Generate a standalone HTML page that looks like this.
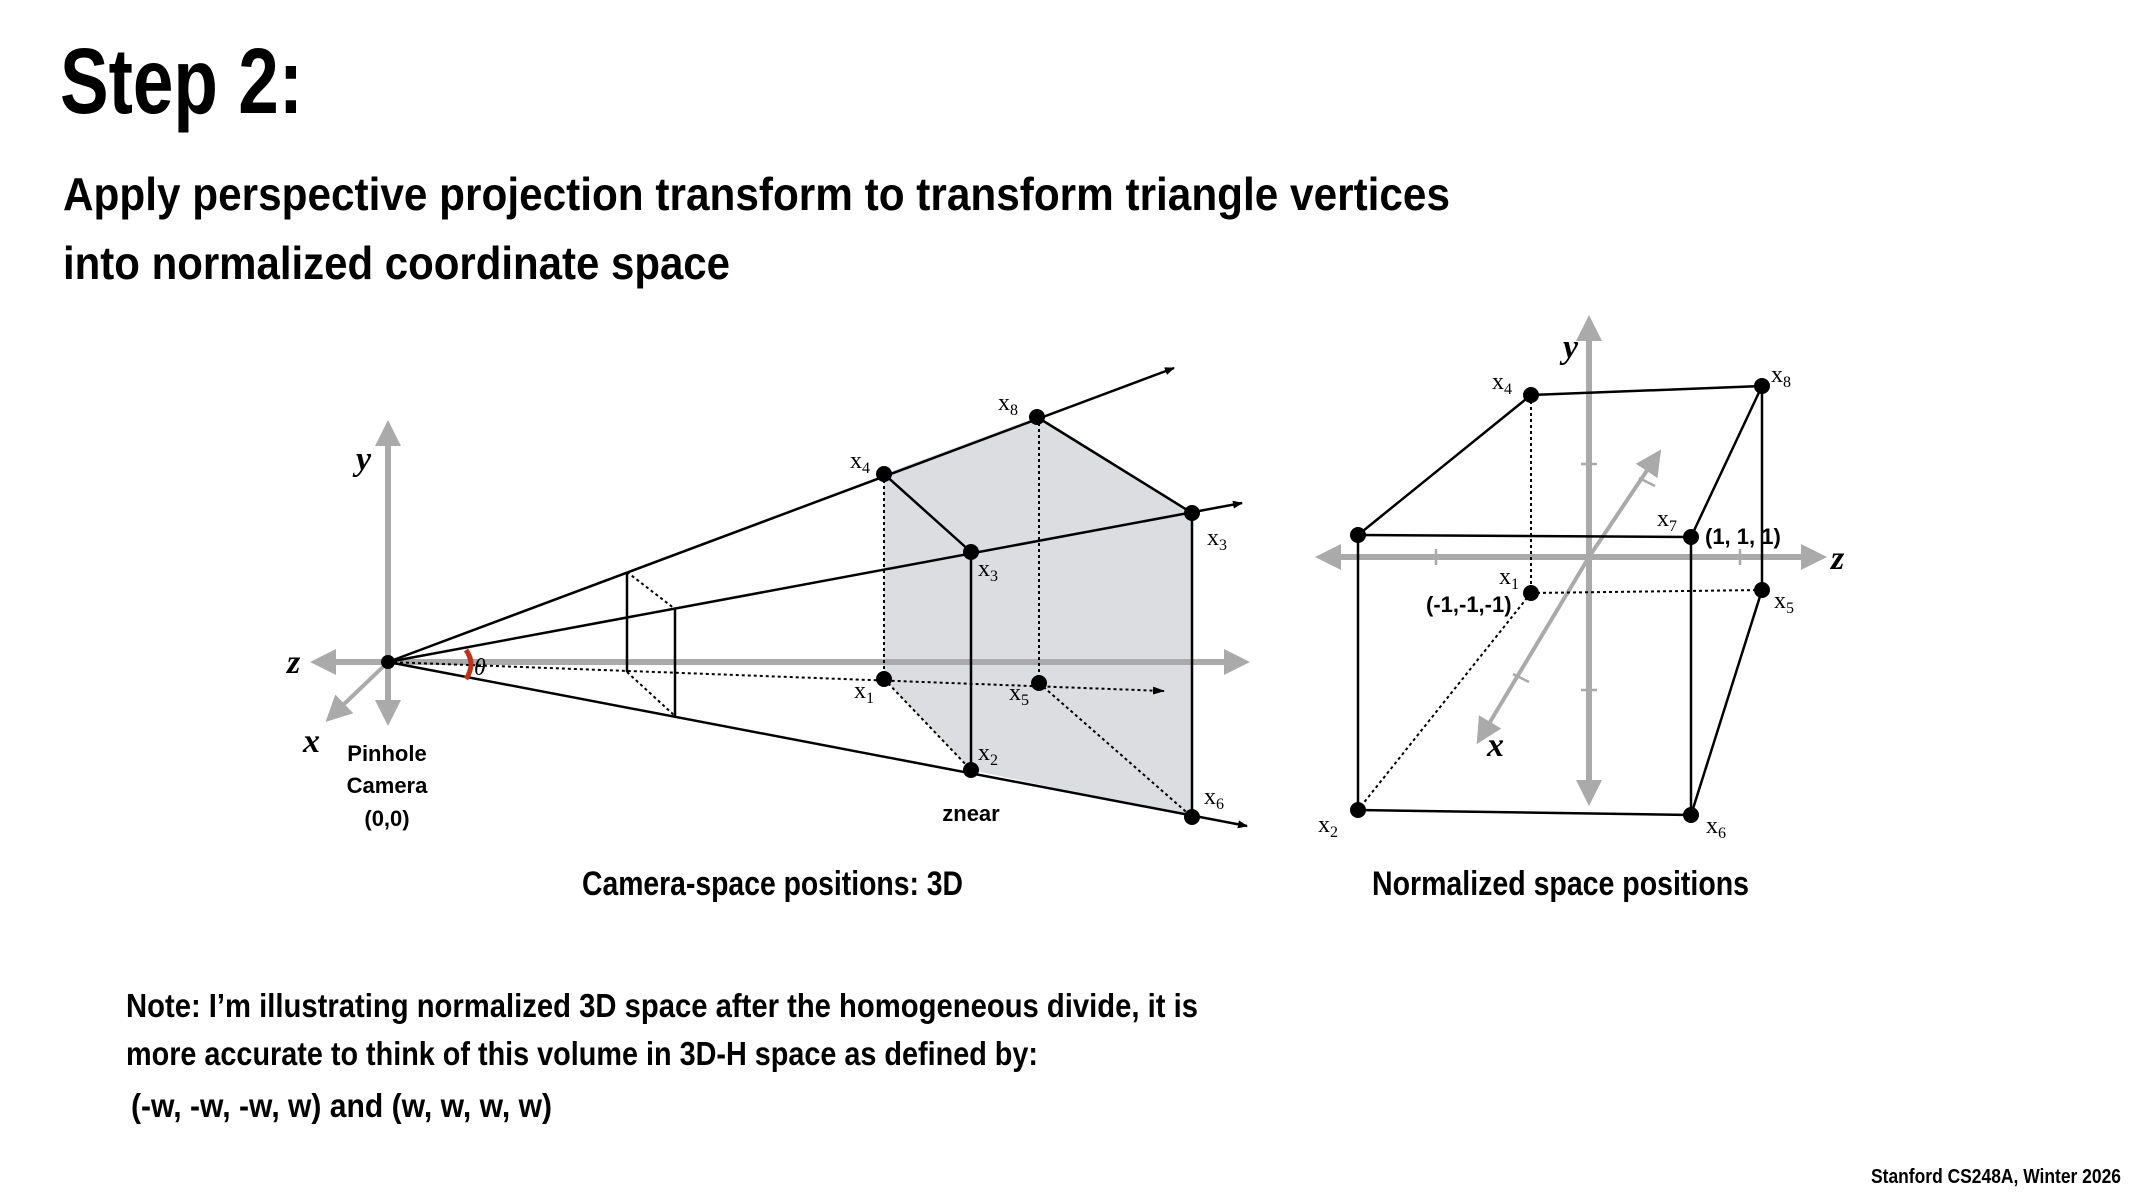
<!DOCTYPE html>
<html><head><meta charset="utf-8"><style>
html,body{margin:0;padding:0;background:#fff;}
svg{display:block}
.b{font-family:"Liberation Sans",sans-serif;font-weight:bold;fill:#000}
.s{font-family:"Liberation Serif",serif;fill:#000;font-size:24px}
.si{font-family:"Liberation Serif",serif;font-style:italic;font-weight:bold;fill:#000;font-size:34px}
</style></head><body>
<svg width="2133" height="1200" viewBox="0 0 2133 1200" xmlns="http://www.w3.org/2000/svg">
<defs>
<marker id="ah" markerWidth="10" markerHeight="8" refX="9" refY="4" orient="auto" markerUnits="userSpaceOnUse"><path d="M0,0 L10,4 L0,8 z" fill="#000"/></marker>
<marker id="ahs" markerWidth="12" markerHeight="8" refX="11" refY="4" orient="auto" markerUnits="userSpaceOnUse"><path d="M0,0 L12,4 L0,8 z" fill="#000"/></marker>
<marker id="ga" markerWidth="26" markerHeight="26" refX="6" refY="13" orient="auto" markerUnits="userSpaceOnUse"><path d="M0,0 L26,13 L0,26 z" fill="#aaa"/></marker>
</defs>

<text class="b" x="60" y="113" font-size="93" textLength="243" lengthAdjust="spacingAndGlyphs">Step 2:</text>
<text class="b" x="63" y="210" font-size="46" textLength="1387" lengthAdjust="spacingAndGlyphs">Apply perspective projection transform to transform triangle vertices</text>
<text class="b" x="63" y="279" font-size="46" textLength="667" lengthAdjust="spacingAndGlyphs">into normalized coordinate space</text>

<!-- LEFT DIAGRAM -->
<polygon points="884,474 1037,417 1192,513 1192,817 971,770 884,679" fill="#dcdde0"/>
<g stroke="#aaa" stroke-width="6" fill="none">
<line x1="388" y1="662" x2="388" y2="440" marker-end="url(#ga)"/>
<line x1="388" y1="662" x2="388" y2="706" marker-end="url(#ga)"/>
<line x1="388" y1="662" x2="330" y2="662" marker-end="url(#ga)"/>
<line x1="388" y1="662" x2="1230" y2="662" marker-end="url(#ga)"/>
<line x1="388" y1="662" x2="340" y2="708" stroke-width="4" marker-end="url(#ga)"/>
</g>
<g stroke="#000" stroke-width="2.5" fill="none">
<line x1="388" y1="662" x2="1174" y2="368" marker-end="url(#ah)"/>
<line x1="388" y1="662" x2="1242" y2="503" marker-end="url(#ah)"/>
<line x1="388" y1="662" x2="1247" y2="826" marker-end="url(#ah)"/>
<line x1="884" y1="474" x2="971" y2="552"/>
<line x1="1037" y1="417" x2="1192" y2="513"/>
<line x1="971" y1="552" x2="971" y2="770"/>
<line x1="1192" y1="513" x2="1192" y2="817"/>
<line x1="627" y1="572" x2="627" y2="672"/>
<line x1="675" y1="609" x2="675" y2="716"/>
</g>
<g stroke="#000" stroke-width="2" stroke-dasharray="3,3" fill="none">
<line x1="388" y1="662" x2="1164" y2="691" marker-end="url(#ahs)"/>
<line x1="884" y1="474" x2="884" y2="679"/>
<line x1="1039" y1="417" x2="1039" y2="683"/>
<line x1="884" y1="679" x2="971" y2="770"/>
<line x1="1039" y1="683" x2="1192" y2="817"/>
<line x1="627" y1="572" x2="675" y2="609"/>
<line x1="627" y1="672" x2="675" y2="716"/>
</g>
<path d="M466,650 Q476,664 466,679" stroke="#c0301a" stroke-width="5" fill="none"/>
<text class="s" x="474" y="675" font-style="italic" font-size="30">θ</text>
<g fill="#000">
<circle cx="388" cy="662" r="7"/>
<circle cx="884" cy="474" r="8"/><circle cx="1037" cy="417" r="8"/>
<circle cx="971" cy="552" r="8"/><circle cx="1192" cy="513" r="8"/>
<circle cx="884" cy="679" r="8"/><circle cx="1039" cy="683" r="8"/>
<circle cx="971" cy="770" r="8"/><circle cx="1192" cy="817" r="8"/>
</g>
<text class="si" x="356" y="470">y</text>
<text class="si" x="287" y="673">z</text>
<text class="si" x="303" y="752">x</text>
<text class="s" x="998" y="410">x<tspan font-size="16" dy="5">8</tspan></text>
<text class="s" x="850" y="468">x<tspan font-size="16" dy="5">4</tspan></text>
<text class="s" x="978" y="576">x<tspan font-size="16" dy="5">3</tspan></text>
<text class="s" x="1207" y="545">x<tspan font-size="16" dy="5">3</tspan></text>
<text class="s" x="854" y="698">x<tspan font-size="16" dy="5">1</tspan></text>
<text class="s" x="1009" y="700">x<tspan font-size="16" dy="5">5</tspan></text>
<text class="s" x="978" y="760">x<tspan font-size="16" dy="5">2</tspan></text>
<text class="s" x="1204" y="804">x<tspan font-size="16" dy="5">6</tspan></text>
<g class="b" font-size="22" text-anchor="middle">
<text x="387" y="761">Pinhole</text>
<text x="387" y="793">Camera</text>
<text x="387" y="826">(0,0)</text>
<text x="971" y="821">znear</text>
</g>
<text class="b" x="582" y="895" font-size="34" textLength="381" lengthAdjust="spacingAndGlyphs">Camera-space positions: 3D</text>

<!-- RIGHT DIAGRAM -->
<g transform="translate(-5,0)">
<g stroke="#aaa" stroke-width="6" fill="none">
<line x1="1594" y1="557" x2="1594" y2="335" marker-end="url(#ga)"/>
<line x1="1594" y1="557" x2="1594" y2="786" marker-end="url(#ga)"/>
<line x1="1594" y1="557" x2="1340" y2="557" marker-end="url(#ga)"/>
<line x1="1594" y1="557" x2="1812" y2="557" marker-end="url(#ga)"/>
<line x1="1594" y1="557" x2="1655" y2="466" stroke-width="4" marker-end="url(#ga)"/>
<line x1="1594" y1="557" x2="1492" y2="727" stroke-width="4" marker-end="url(#ga)"/>
<g stroke-width="2.5">
<line x1="1441" y1="549" x2="1441" y2="565"/><line x1="1745" y1="549" x2="1745" y2="565"/>
<line x1="1586" y1="464" x2="1602" y2="464"/><line x1="1586" y1="690" x2="1602" y2="690"/>
<line x1="1644" y1="478" x2="1660" y2="486"/><line x1="1518" y1="674" x2="1534" y2="682"/>
</g>
</g>
<g stroke="#000" stroke-width="2.5" fill="none">
<line x1="1363" y1="535" x2="1696" y2="537"/>
<line x1="1363" y1="535" x2="1363" y2="810"/>
<line x1="1363" y1="810" x2="1696" y2="815"/>
<line x1="1696" y1="537" x2="1696" y2="815"/>
<line x1="1363" y1="535" x2="1536" y2="395"/>
<line x1="1536" y1="395" x2="1767" y2="386"/>
<line x1="1696" y1="537" x2="1767" y2="386"/>
<line x1="1767" y1="386" x2="1767" y2="590"/>
<line x1="1767" y1="590" x2="1696" y2="815"/>
</g>
<g stroke="#000" stroke-width="2" stroke-dasharray="3,3" fill="none">
<line x1="1536" y1="395" x2="1536" y2="593"/>
<line x1="1536" y1="593" x2="1767" y2="590"/>
<line x1="1536" y1="593" x2="1363" y2="810"/>
</g>
<g fill="#000">
<circle cx="1363" cy="535" r="8"/><circle cx="1696" cy="537" r="8"/>
<circle cx="1363" cy="810" r="8"/><circle cx="1696" cy="815" r="8"/>
<circle cx="1536" cy="395" r="8"/><circle cx="1767" cy="386" r="8"/>
<circle cx="1536" cy="593" r="8"/><circle cx="1767" cy="590" r="8"/>
</g>
<text class="si" x="1568" y="358">y</text>
<text class="si" x="1836" y="569">z</text>
<text class="si" x="1492" y="756">x</text>
<text class="s" x="1497" y="389">x<tspan font-size="16" dy="5">4</tspan></text>
<text class="s" x="1776" y="382">x<tspan font-size="16" dy="5">8</tspan></text>
<text class="s" x="1662" y="526">x<tspan font-size="16" dy="5">7</tspan></text>
<text class="s" x="1504" y="584">x<tspan font-size="16" dy="5">1</tspan></text>
<text class="s" x="1779" y="608">x<tspan font-size="16" dy="5">5</tspan></text>
<text class="s" x="1323" y="832">x<tspan font-size="16" dy="5">2</tspan></text>
<text class="s" x="1711" y="833">x<tspan font-size="16" dy="5">6</tspan></text>
<text class="b" x="1710" y="544" font-size="22">(1, 1, 1)</text>
<text class="b" x="1431" y="612" font-size="22">(-1,-1,-1)</text>
<text class="b" x="1377" y="895" font-size="34" textLength="377" lengthAdjust="spacingAndGlyphs">Normalized space positions</text>
</g>

<!-- NOTE -->
<text class="b" x="126" y="1017" font-size="33" textLength="1072" lengthAdjust="spacingAndGlyphs">Note: I’m illustrating normalized 3D space after the homogeneous divide, it is</text>
<text class="b" x="126" y="1065" font-size="33" textLength="912" lengthAdjust="spacingAndGlyphs">more accurate to think of this volume in 3D-H space as defined by:</text>
<text class="b" x="131" y="1117" font-size="33" textLength="421" lengthAdjust="spacingAndGlyphs">(-w, -w, -w, w) and (w, w, w, w)</text>

<text class="b" x="2121" y="1183" font-size="20" text-anchor="end" textLength="250" lengthAdjust="spacingAndGlyphs">Stanford CS248A, Winter 2026</text>
</svg>
</body></html>
